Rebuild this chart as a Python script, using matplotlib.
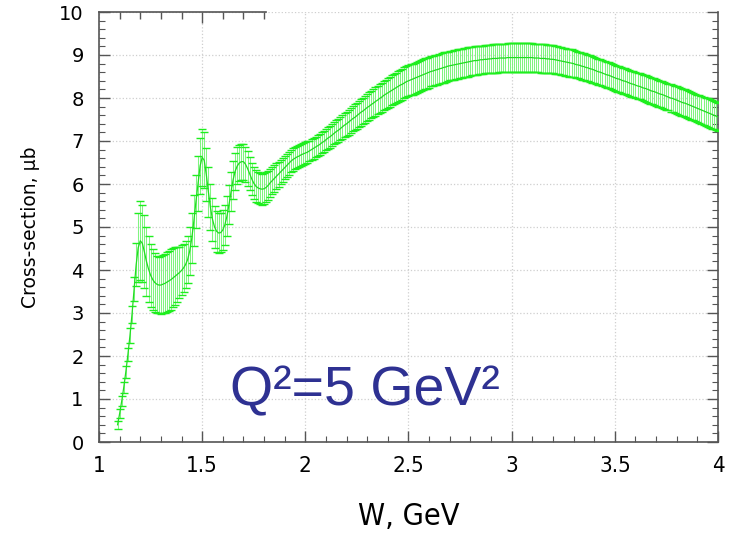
from __future__ import annotations

import matplotlib

matplotlib.use("Agg", force=True)
import matplotlib.pyplot as plt
import numpy as np
from matplotlib.ticker import MultipleLocator

# W grid of the model points, GeV (one point every 10 MeV)
w_start, w_stop, w_step = 1.09, 4.00, 0.01

# cross-section, ub (rows of ten points)
sigma = [
    0.40, 0.66, 0.95, 1.27, 1.63, 2.03, 2.47, 2.97, 3.55, 4.12,
    4.52, 4.68, 4.62, 4.42, 4.20, 4.02, 3.88, 3.78, 3.71, 3.67,
    3.65, 3.65, 3.67, 3.69, 3.72, 3.75, 3.78, 3.82, 3.86, 3.90,
    3.94, 3.99, 4.05, 4.13, 4.25, 4.45, 4.75, 5.15, 5.60, 6.02,
    6.42, 6.62, 6.55, 6.22, 5.82, 5.46, 5.18, 5.00, 4.90, 4.86,
    4.87, 4.93, 5.05, 5.25, 5.52, 5.82, 6.10, 6.30, 6.42, 6.49,
    6.52, 6.52, 6.46, 6.36, 6.24, 6.12, 6.02, 5.95, 5.91, 5.89,
    5.88, 5.89, 5.92, 5.97, 6.03, 6.08, 6.13, 6.18, 6.23, 6.28,
    6.33, 6.38, 6.43, 6.48, 6.53, 6.57, 6.60, 6.63, 6.65, 6.68,
    6.70, 6.72, 6.74, 6.77, 6.80, 6.83, 6.86, 6.89, 6.92, 6.96,
    6.99, 7.03, 7.07, 7.10, 7.14, 7.18, 7.22, 7.25, 7.29, 7.33,
    7.37, 7.40, 7.44, 7.48, 7.52, 7.55, 7.59, 7.63, 7.67, 7.70,
    7.74, 7.78, 7.81, 7.85, 7.88, 7.92, 7.95, 7.99, 8.02, 8.06,
    8.09, 8.12, 8.15, 8.18, 8.21, 8.24, 8.27, 8.30, 8.32, 8.35,
    8.38, 8.40, 8.42, 8.44, 8.46, 8.48, 8.50, 8.52, 8.54, 8.56,
    8.58, 8.60, 8.62, 8.63, 8.65, 8.66, 8.68, 8.69, 8.71, 8.72,
    8.74, 8.75, 8.76, 8.77, 8.78, 8.79, 8.80, 8.81, 8.82, 8.83,
    8.84, 8.85, 8.86, 8.87, 8.87, 8.88, 8.89, 8.89, 8.90, 8.90,
    8.91, 8.91, 8.92, 8.92, 8.92, 8.93, 8.93, 8.93, 8.93, 8.94,
    8.94, 8.94, 8.94, 8.94, 8.94, 8.94, 8.94, 8.94, 8.94, 8.94,
    8.94, 8.94, 8.93, 8.93, 8.93, 8.92, 8.92, 8.92, 8.91, 8.91,
    8.90, 8.90, 8.89, 8.88, 8.87, 8.86, 8.85, 8.84, 8.83, 8.82,
    8.81, 8.80, 8.78, 8.77, 8.76, 8.74, 8.73, 8.71, 8.70, 8.68,
    8.67, 8.65, 8.63, 8.61, 8.60, 8.58, 8.56, 8.54, 8.53, 8.51,
    8.49, 8.47, 8.45, 8.44, 8.42, 8.40, 8.39, 8.37, 8.35, 8.33,
    8.32, 8.30, 8.28, 8.27, 8.25, 8.23, 8.22, 8.20, 8.18, 8.16,
    8.15, 8.13, 8.11, 8.09, 8.08, 8.06, 8.04, 8.02, 8.00, 7.99,
    7.97, 7.95, 7.93, 7.91, 7.89, 7.88, 7.86, 7.84, 7.82, 7.80,
    7.78, 7.76, 7.74, 7.72, 7.70, 7.68, 7.66, 7.64, 7.62, 7.60,
    7.58, 7.56,
]

# symmetric uncertainty, ub
sigma_err = [
    0.10, 0.10, 0.11, 0.12, 0.13, 0.15, 0.17, 0.20, 0.28, 0.50,
    0.80, 0.92, 0.90, 0.85, 0.80, 0.76, 0.73, 0.70, 0.68, 0.66,
    0.66, 0.67, 0.68, 0.69, 0.70, 0.70, 0.70, 0.69, 0.67, 0.64,
    0.60, 0.58, 0.56, 0.55, 0.55, 0.56, 0.58, 0.60, 0.62, 0.64,
    0.65, 0.66, 0.65, 0.62, 0.58, 0.54, 0.50, 0.48, 0.47, 0.47,
    0.46, 0.46, 0.46, 0.46, 0.46, 0.45, 0.44, 0.43, 0.43, 0.42,
    0.42, 0.42, 0.41, 0.40, 0.39, 0.38, 0.37, 0.37, 0.36, 0.36,
    0.36, 0.36, 0.35, 0.34, 0.33, 0.32, 0.31, 0.30, 0.29, 0.28,
    0.28, 0.27, 0.27, 0.26, 0.26, 0.26, 0.25, 0.25, 0.25, 0.25,
    0.25, 0.25, 0.25, 0.24, 0.24, 0.24, 0.24, 0.24, 0.24, 0.25,
    0.25, 0.25, 0.25, 0.26, 0.26, 0.26, 0.27, 0.27, 0.27, 0.28,
    0.28, 0.28, 0.29, 0.29, 0.29, 0.30, 0.30, 0.30, 0.31, 0.31,
    0.31, 0.32, 0.32, 0.32, 0.33, 0.33, 0.33, 0.34, 0.34, 0.34,
    0.34, 0.35, 0.35, 0.35, 0.35, 0.35, 0.36, 0.36, 0.36, 0.36,
    0.36, 0.36, 0.36, 0.36, 0.36, 0.36, 0.36, 0.36, 0.36, 0.36,
    0.36, 0.36, 0.35, 0.35, 0.35, 0.35, 0.35, 0.35, 0.35, 0.35,
    0.34, 0.34, 0.34, 0.34, 0.34, 0.34, 0.34, 0.34, 0.34, 0.34,
    0.34, 0.33, 0.33, 0.33, 0.33, 0.33, 0.33, 0.33, 0.33, 0.33,
    0.33, 0.33, 0.33, 0.33, 0.33, 0.33, 0.33, 0.33, 0.33, 0.33,
    0.33, 0.33, 0.33, 0.33, 0.33, 0.33, 0.33, 0.33, 0.33, 0.33,
    0.33, 0.33, 0.33, 0.33, 0.33, 0.33, 0.33, 0.33, 0.33, 0.33,
    0.33, 0.33, 0.33, 0.33, 0.32, 0.32, 0.32, 0.32, 0.32, 0.32,
    0.32, 0.32, 0.32, 0.31, 0.31, 0.31, 0.31, 0.31, 0.31, 0.31,
    0.31, 0.31, 0.30, 0.30, 0.30, 0.30, 0.30, 0.30, 0.30, 0.30,
    0.30, 0.30, 0.30, 0.30, 0.30, 0.30, 0.30, 0.30, 0.30, 0.30,
    0.30, 0.30, 0.30, 0.30, 0.30, 0.31, 0.31, 0.31, 0.31, 0.31,
    0.31, 0.31, 0.31, 0.31, 0.31, 0.31, 0.31, 0.31, 0.32, 0.32,
    0.32, 0.32, 0.32, 0.32, 0.32, 0.32, 0.32, 0.32, 0.32, 0.32,
    0.32, 0.32, 0.32, 0.32, 0.32, 0.33, 0.33, 0.33, 0.33, 0.33,
    0.33, 0.33,
]

x_ticks = [1, 1.5, 2, 2.5, 3, 3.5, 4]
x_tick_labels = ["1", "1.5", "2", "2.5", "3", "3.5", "4"]
y_ticks = list(range(0, 11))
# the top frame of the original only runs over this W range
top_frame_end = 1.81
top_minor = [1.1, 1.2, 1.3, 1.4, 1.6, 1.7, 1.8]
label_text = "Q²=5 GeV²"

LINE_GREEN = "#22dd22"
BAR_GREEN = "#80f480"
CAP_GREEN = "#1eee1e"
SPINE_GREY = "#555555"


def main() -> None:
    w_gev = np.round(np.arange(w_start, w_stop + w_step / 2, w_step), 2)
    assert len(w_gev) == len(sigma) == len(sigma_err)

    fig = plt.figure(figsize=(7.30, 5.35), dpi=100)
    ax = fig.add_axes([99 / 730, 1 - 442 / 535, 619 / 730, 430 / 535])

    line, caps, bars = ax.errorbar(
        w_gev, sigma, yerr=sigma_err,
        color=LINE_GREEN, lw=0.9,
        ecolor=BAR_GREEN, elinewidth=0.75,
        capsize=3, capthick=1.0, zorder=3,
    )
    # caps are markers, so their colour is the marker edge colour
    for cap in caps:
        cap.set_markeredgecolor(CAP_GREEN)
    for col in bars:
        col.set_snap(True)
    line.set_zorder(4)

    ax.set_xlim(1, 4)
    ax.set_ylim(0, 10)
    ax.set_xticks(x_ticks)
    ax.set_xticklabels(x_tick_labels, fontsize=16, fontstretch="condensed")
    ax.set_yticks(y_ticks)
    ax.tick_params(axis="y", labelsize=14)
    ax.xaxis.set_minor_locator(MultipleLocator(0.1))
    ax.yaxis.set_minor_locator(MultipleLocator(0.2))
    ax.tick_params(which="both", direction="in", right=True, top=False, color=SPINE_GREY)
    ax.tick_params(which="major", length=8, width=1.0)
    ax.tick_params(which="minor", length=4, width=0.8)
    ax.tick_params(axis="x", pad=10)
    ax.tick_params(axis="y", pad=11)

    ax.grid(True, which="major", color="#cfcfcf", linestyle=":", linewidth=0.9)
    ax.set_axisbelow(True)

    for side in ("left", "right", "bottom", "top"):
        ax.spines[side].set_color(SPINE_GREY)
        ax.spines[side].set_linewidth(1.2)
    ax.spines["top"].set_bounds(1.0, top_frame_end)

    # separate twin axis just for the short top frame ticks
    ax_top = ax.twiny()
    ax_top.set_xlim(ax.get_xlim())
    ax_top.set_xticks([1.5])
    ax_top.set_xticks(top_minor, minor=True)
    ax_top.set_xticklabels([])
    ax_top.tick_params(which="both", direction="in", top=True, bottom=False,
                       labeltop=False, color=SPINE_GREY)
    ax_top.tick_params(which="major", length=8, width=1.0)
    ax_top.tick_params(which="minor", length=5, width=1.0)
    for spine in ax_top.spines.values():
        spine.set_visible(False)

    ax.set_xlabel("W, GeV", fontsize=22, fontstretch="condensed", labelpad=19)
    ax.set_ylabel("Cross-section, µb", fontsize=13.5, labelpad=14)

    ax.text(1.635, 0.86, label_text, fontsize=40, color="#2e3192",
            family="Liberation Sans", ha="left", va="baseline", zorder=5)

    fig.savefig("out.png", dpi=100)
    plt.close(fig)


if __name__ == "__main__":
    main()
